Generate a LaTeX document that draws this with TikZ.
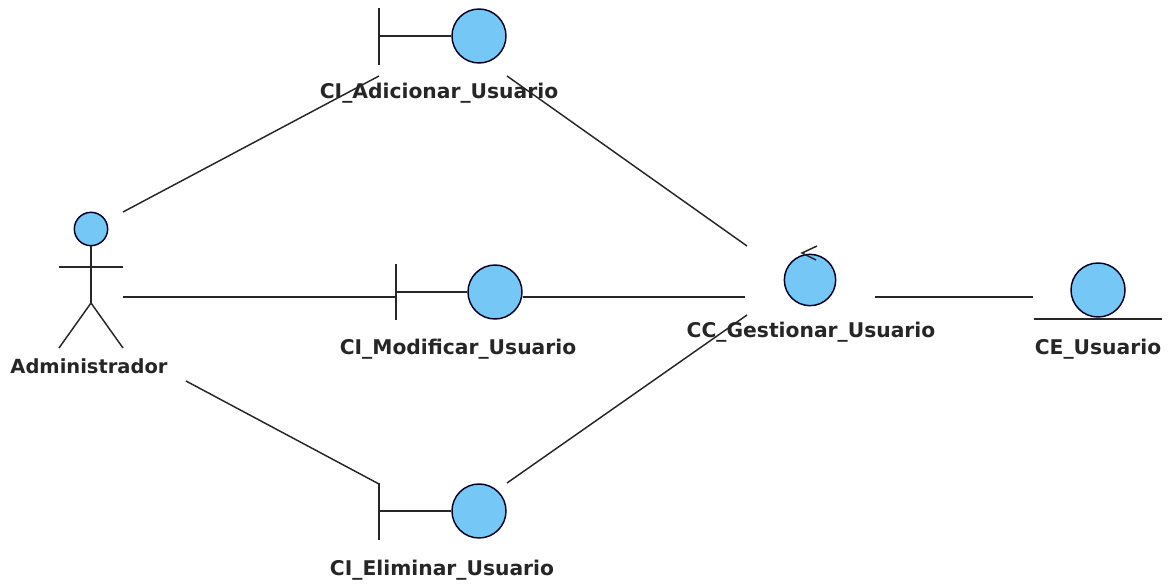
\documentclass[tikz,border=0pt]{standalone}
\usepackage{fontspec}
\setmainfont{DejaVu Sans}
\usetikzlibrary{positioning}
\tikzset{robot/.style={draw=black!85!blue,line width=1.1pt,circle,fill=robotblue,inner sep=0pt,minimum size=40.5pt},
         line/.style={draw=black!85,line width=1.1pt},
         label/.style={font=\bfseries\fontsize{15.2}{18}\selectfont,text=black!85,inner sep=0pt}
}
\definecolor{robotblue}{RGB}{117,200,245}
\begin{document}
\begin{tikzpicture}[x=0.75pt,y=0.75pt,yscale=-1,xscale=1]
\useasboundingbox (0,0) rectangle (1173,585);

%Actor
\node [robot,minimum size=25pt] (head) at (91,229) {};
\coordinate (hip) at (91,303);
\coordinate (armL) at (59,267);
\coordinate (armR) at (123,267);
\coordinate (legL) at (59,348);
\coordinate (legR) at (123,348);
\draw [line] (head) -- (hip);
\draw [line] (armL) -- (armR);
\draw [line] (legL) -- (hip) -- (legR);

%Boundary: adicionar
\node [robot] (adicionar) at (479,36) {};
\coordinate (adicionarTop) at (379,8);
\coordinate (adicionarMid) at (379,36);
\coordinate (adicionarBot) at (379,65);
\draw [line] (adicionarTop) -- (adicionarBot);
\draw [line] (adicionarMid) -- (adicionar);

%Boundary: modificar
\node [robot] (modificar) at (495,292) {};
\coordinate (modificarTop) at (396,264);
\coordinate (modificarMid) at (396,292);
\coordinate (modificarBot) at (396,320);
\draw [line] (modificarTop) -- (modificarBot);
\draw [line] (modificarMid) -- (modificar);

%Boundary: eliminar
\node [robot] (eliminar) at (479,511) {};
\coordinate (eliminarTop) at (379,483);
\coordinate (eliminarMid) at (379,511);
\coordinate (eliminarBot) at (379,540);
\draw [line] (eliminarTop) -- (eliminarBot);
\draw [line] (eliminarMid) -- (eliminar);

%Control
\node [robot,minimum size=38.5pt] (gestionar) at (810,280) {};
\coordinate (tipA) at (817,246);
\coordinate (tipB) at (802,253);
\coordinate (tipC) at (816,260);
\draw [line] (tipA) -- (tipB) -- (tipC);

%Entity
\node [robot] (usuario) at (1098,290) {};
\coordinate (floorL) at (1034,319);
\coordinate (floorR) at (1162,319);
\draw [line] (floorL) -- (floorR);

%Straight Lines
\coordinate (a1) at (123,212);
\coordinate (a2) at (379,76);
\coordinate (b1) at (507,76);
\coordinate (b2) at (747,246);
\coordinate (c1) at (123,297);
\coordinate (c2) at (396,297);
\coordinate (d1) at (523,297);
\coordinate (d2) at (745,297);
\coordinate (e1) at (186,381);
\coordinate (e2) at (379,484);
\coordinate (f1) at (507,483);
\coordinate (f2) at (747,315);
\coordinate (g1) at (875,297);
\coordinate (g2) at (1033,297);
\draw [line] (a1) -- (a2);
\draw [line] (b1) -- (b2);
\draw [line] (c1) -- (c2);
\draw [line] (d1) -- (d2);
\draw [line] (e1) -- (e2);
\draw [line] (f1) -- (f2);
\draw [line] (g1) -- (g2);

% Text Node
\node [label,font=\bfseries\fontsize{14.6}{18}\selectfont] (adminText) at (89,366) {Administrador};
\node [label] (adicionarText) at (439,93) {CI\_Adicionar\_Usuario};
\node [label] (modificarText) at (458,349) {CI\_Modificar\_Usuario};
\node [label] (eliminarText) at (442,570) {CI\_Eliminar\_Usuario};
\node [label] (gestionarText) at (811,332) {CC\_Gestionar\_Usuario};
\node [label] (usuarioText) at (1098,349) {CE\_Usuario};

\end{tikzpicture}
\end{document}
